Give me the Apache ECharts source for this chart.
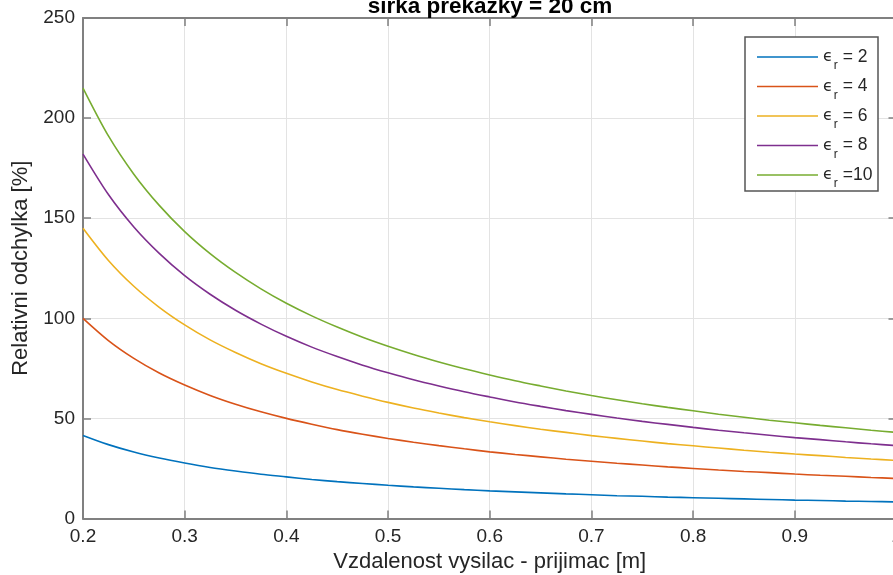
<!DOCTYPE html>
<html>
<head>
<meta charset="utf-8">
<script src="https://cdn.jsdelivr.net/npm/echarts@6/dist/echarts.min.js"></script>
<style>html,body{margin:0;padding:0;background:#fff}#c{width:893px;height:575px}</style>
</head>
<body>
<div id="c"></div>
<script>
// Data
var xValues = [0.2, 0.225, 0.25, 0.275, 0.3, 0.325, 0.35, 0.375, 0.4, 0.425, 0.45, 0.475, 0.5, 0.525, 0.55, 0.575, 0.6,
  0.625, 0.65, 0.675, 0.7, 0.725, 0.75, 0.775, 0.8, 0.825, 0.85, 0.875, 0.9, 0.925, 0.95, 0.975, 1.0];
var er2  = [41.5, 36.9, 33.2, 30.2, 27.7, 25.5, 23.7, 22.1, 20.8, 19.5, 18.4, 17.5, 16.6, 15.8, 15.1, 14.4, 13.8,
  13.3, 12.8, 12.3, 11.9, 11.4, 11.1, 10.7, 10.4, 10.1, 9.8, 9.5, 9.2, 9.0, 8.7, 8.5, 8.3];
var er4  = [100, 88.9, 80, 72.7, 66.7, 61.5, 57.1, 53.3, 50, 47.1, 44.4, 42.1, 40, 38.1, 36.4, 34.8, 33.3,
  32, 30.8, 29.6, 28.6, 27.6, 26.7, 25.8, 25, 24.2, 23.5, 22.9, 22.2, 21.6, 21.1, 20.5, 20];
var er6  = [145, 128.9, 116, 105.5, 96.7, 89.2, 82.9, 77.3, 72.5, 68.2, 64.4, 61.1, 58, 55.2, 52.7, 50.4, 48.3,
  46.4, 44.6, 43, 41.4, 40, 38.7, 37.4, 36.3, 35.2, 34.1, 33.1, 32.2, 31.4, 30.5, 29.7, 29];
var er8  = [182, 161.8, 145.6, 132.4, 121.3, 112, 104, 97.1, 91, 85.6, 80.9, 76.6, 72.8, 69.3, 66.2, 63.3, 60.7,
  58.2, 56, 53.9, 52, 50.2, 48.5, 47, 45.5, 44.1, 42.8, 41.6, 40.4, 39.4, 38.3, 37.3, 36.4];
var er10 = [215, 191.1, 172, 156.4, 143.3, 132.3, 122.9, 114.7, 107.5, 101.2, 95.6, 90.5, 86, 81.9, 78.2, 74.8, 71.7,
  68.8, 66.2, 63.7, 61.4, 59.3, 57.3, 55.5, 53.8, 52.1, 50.6, 49.1, 47.8, 46.5, 45.3, 44.1, 43];
var seriesNames = ['er2', 'er4', 'er6', 'er8', 'er10'];
var legendLabels = ['= 2', '= 4', '= 6', '= 8', '=10'];
var seriesData = [er2, er4, er6, er8, er10];
var colors = ['#0072BD', '#D95319', '#EDB120', '#7E2F8E', '#77AC30'];
var titleText = 'sirka prekazky = 20 cm';
var xName = 'Vzdalenost vysilac - prijimac [m]';
var yName = 'Relativni odchylka [%]';

var FONT = 'Liberation Sans, Arial, Helvetica, sans-serif';
var AX = '#808080';
var TXT = '#262626';

function pairs(ys) { return ys.map(function (y, i) { return [xValues[i], y]; }); }

var series = seriesData.map(function (d, i) {
  return {
    name: seriesNames[i], type: 'line', data: pairs(d), smooth: 0.3,
    symbol: 'none', showSymbol: false,
    lineStyle: { width: 1.6, color: colors[i] }, itemStyle: { color: colors[i] },
    xAxisIndex: 0, yAxisIndex: 0, z: 2
  };
});

var rowCenters = [56, 85.5, 115, 144.5, 174];
var legends = seriesNames.map(function (n, i) {
  return {
    data: [{ name: n, icon: 'rect', itemStyle: { color: colors[i] } }],
    orient: 'vertical', left: 757, top: rowCenters[i] - 8, padding: 0,
    itemWidth: 61, itemHeight: 1.6, itemGap: 0, selectedMode: false, z: 10,
    formatter: function () { return '{e|\u03f5}{r|r}{t| ' + legendLabels[i] + '}'; },
    textStyle: {
      fontFamily: FONT, color: TXT,
      rich: {
        e: { fontFamily: 'DejaVu Sans', fontSize: 16, lineHeight: 30, color: TXT },
        r: { fontFamily: FONT, fontSize: 12, lineHeight: 30, verticalAlign: 'bottom', color: TXT, padding: [0, 0, 0, 1] },
        t: { fontFamily: FONT, fontSize: 17.5, lineHeight: 30, color: TXT }
      }
    }
  };
});

var chart = echarts.init(document.getElementById('c'), null, { renderer: 'canvas' });
chart.setOption({
  animation: false,
  backgroundColor: '#fff',
  title: {
    text: titleText, left: 485, textAlign: 'center', top: -10,
    textStyle: { fontFamily: FONT, fontSize: 22.5, fontWeight: 'bold', color: '#000' }
  },
  grid: { left: 83, right: -3.5, top: 18, bottom: 56.5, containLabel: false, outerBoundsMode: 'none' },
  legend: legends,
  xAxis: [{
    type: 'value', min: 0.2, max: 1.0, interval: 0.1, position: 'bottom',
    name: xName, nameLocation: 'middle', nameGap: 32,
    nameTextStyle: { fontFamily: FONT, fontSize: 22, color: TXT },
    axisLine: { show: true, onZero: false, lineStyle: { color: AX, width: 2 } },
    axisTick: { show: true, inside: true, length: 8, lineStyle: { color: AX, width: 1.5 } },
    axisLabel: { fontFamily: FONT, fontSize: 19, color: TXT, margin: 9,
      formatter: function (v) { return String(Math.round(v * 10) / 10); } },
    splitLine: { show: true, lineStyle: { color: '#e3e3e3', width: 1 } }
  }, {
    type: 'value', min: 0.2, max: 1.0, interval: 0.1, position: 'top',
    axisLine: { show: true, onZero: false, lineStyle: { color: AX, width: 2 } },
    axisTick: { show: true, inside: true, length: 8, lineStyle: { color: AX, width: 1.5 } },
    axisLabel: { show: false }, splitLine: { show: false }
  }],
  yAxis: [{
    type: 'value', min: 0, max: 250, interval: 50, position: 'left',
    name: yName, nameLocation: 'middle', nameGap: 44, nameRotate: 90,
    nameTextStyle: { fontFamily: FONT, fontSize: 22, color: TXT },
    axisLine: { show: true, onZero: false, lineStyle: { color: AX, width: 2 } },
    axisTick: { show: true, inside: true, length: 8, lineStyle: { color: AX, width: 1.5 } },
    axisLabel: { fontFamily: FONT, fontSize: 19, color: TXT, margin: 8 },
    splitLine: { show: true, lineStyle: { color: '#e3e3e3', width: 1 } }
  }, {
    type: 'value', min: 0, max: 250, interval: 50, position: 'right',
    axisLine: { show: true, onZero: false, lineStyle: { color: AX, width: 2 } },
    axisTick: { show: true, inside: true, length: 8, lineStyle: { color: AX, width: 1.5 } },
    axisLabel: { show: false }, splitLine: { show: false }
  }],
  graphic: [{
    type: 'rect', z: 5,
    shape: { x: 745, y: 37, width: 133, height: 154 },
    style: { fill: '#fff', stroke: '#555', lineWidth: 1.5 }
  }],
  series: series
});
</script>
</body>
</html>
